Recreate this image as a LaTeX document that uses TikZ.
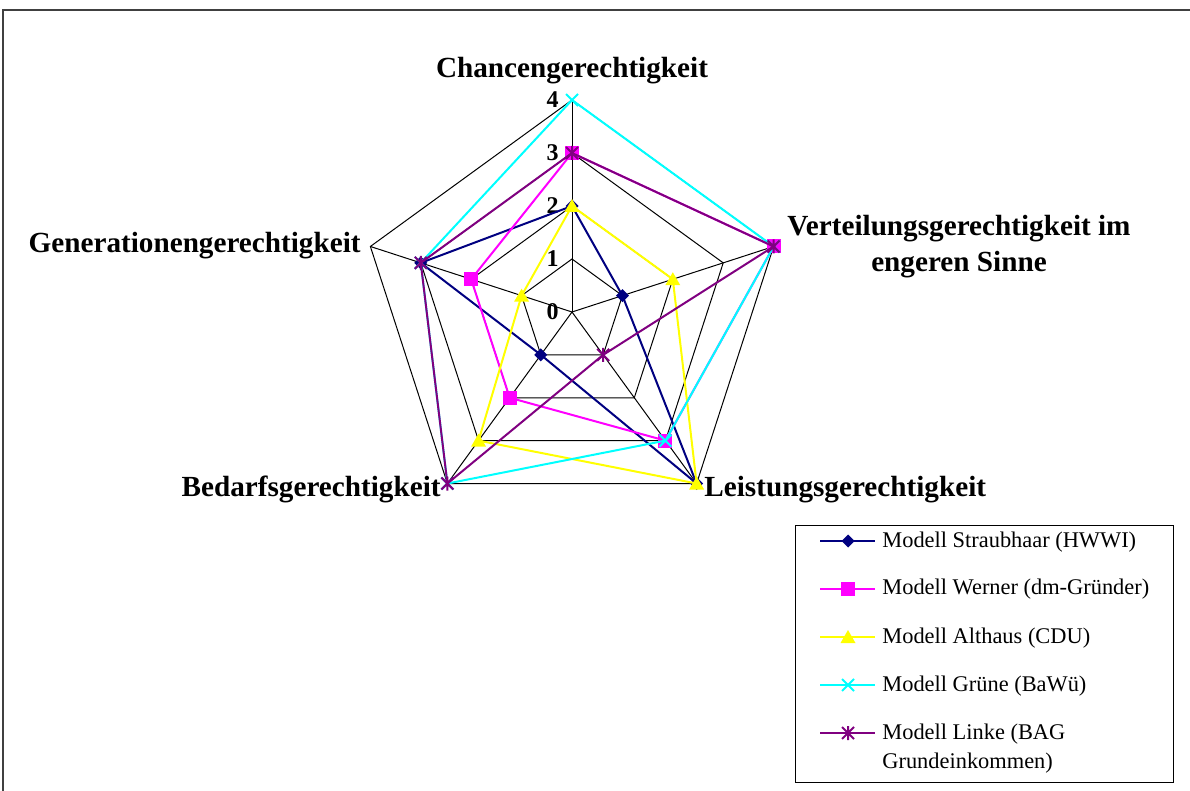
\documentclass[tikz,border=0pt]{standalone}
\usepackage{fontspec}
\setmainfont{Liberation Serif}
\usepackage{xcolor}
\usetikzlibrary{positioning}

\definecolor{straub}{RGB}{0,0,128}
\definecolor{werner}{RGB}{255,0,255}
\definecolor{althaus}{RGB}{255,255,0}
\definecolor{gruene}{RGB}{0,255,255}
\definecolor{linke}{RGB}{128,0,128}

\tikzset{
  mkdiamond/.pic={\fill (0,-6.5) -- (6.5,0) -- (0,6.5) -- (-6.5,0) -- cycle;},
  mksquare/.pic={\fill (-7,-7) rectangle (7,7);},
  mktriangle/.pic={\fill (0,-7) -- (7.5,6) -- (-7.5,6) -- cycle;},
  mkcross/.pic={\draw[line width=1pt] (-6,-6) -- (6,6) (-6,6) -- (6,-6);},
  mkstar/.pic={\draw[line width=1pt] (-6,-6) -- (6,6) (-6,6) -- (6,-6) (0,-7) -- (0,7);},
}

\begin{document}
\begin{tikzpicture}[x=0.5pt, y=-0.5pt,
  gridline/.style={black, line width=0.5pt},
  serie/.style={line width=1pt},
  axislabel/.style={font=\bfseries\fontsize{14.6}{18}\selectfont, inner sep=0pt},
  ticklabel/.style={font=\bfseries\fontsize{12}{14}\selectfont, anchor=east, inner sep=0pt},
  legendtext/.style={font=\fontsize{11.2}{14.5}\selectfont, anchor=base west, inner sep=0pt, align=left}]
\useasboundingbox (0,0) rectangle (1190,791);
\draw[line width=0.9pt, black!75] (3,10) rectangle (1200,800);

\coordinate (c) at (572,312);
% grid
\foreach \i in {0,...,4}
  \foreach \l in {1,...,4}
    \coordinate (g\i-\l) at ({572+53*\l*cos(90-72*\i)}, {312-53*\l*sin(90-72*\i)});
\foreach \i in {0,...,4}
  \draw[gridline] (c) -- (g\i-4);
\foreach \l in {1,...,4}
  \draw[gridline] (g0-\l) -- (g1-\l) -- (g2-\l) -- (g3-\l) -- (g4-\l) -- cycle;

\foreach \l in {0,...,4}
  \node[ticklabel] (t\l) at (559,{312-53*\l}) {\l};

% axes
\node[axislabel, anchor=base] (chancen) at (572,78) {Chancengerechtigkeit};
\node[axislabel, align=center] (verteilung) at (959,247) {Verteilungsgerechtigkeit im\\engeren Sinne};
\node[axislabel, anchor=base west] (leistung) at (704,496) {Leistungsgerechtigkeit};
\node[axislabel, anchor=base east] (bedarf) at (441,496) {Bedarfsgerechtigkeit};
\node[axislabel, anchor=base east] (generation) at (361,253) {Generationengerechtigkeit};

% series
\foreach \s/\col/\mk/\vals in {sb/straub/mkdiamond/{2,1,4,1,3},
    wn/werner/mksquare/{3,4,3,2,2},
    ah/althaus/mktriangle/{2,2,4,3,1},
    gr/gruene/mkcross/{4,4,3,4,3},
    lk/linke/mkstar/{3,4,1,4,3}}
{
  \foreach \v [count=\i from 0] in \vals
    \coordinate (\s\i) at ({572+53*\v*cos(90-72*\i)}, {312-53*\v*sin(90-72*\i)});
  \draw[serie, \col] (\s0) -- (\s1) -- (\s2) -- (\s3) -- (\s4) -- cycle;
  \foreach \i in {0,...,4}
    \pic[\col] at (\s\i) {\mk};
}

% legend
\draw[gridline] (795,525) rectangle (1173,782);
\foreach \col/\mk/\dy/\txt [count=\r from 0] in {straub/mkdiamond/0/{Modell Straubhaar (HWWI)},
    werner/mksquare/0/{Modell Werner (dm-Gründer)},
    althaus/mktriangle/0/{Modell Althaus (CDU)},
    gruene/mkcross/0/{Modell Grüne (BaWü)},
    linke/mkstar/29/{Modell Linke (BAG\\Grundeinkommen)}}
{
  \draw[serie, \col] (820,{541+48*\r}) -- (875,{541+48*\r});
  \pic[\col] at (848,{541+48*\r}) {\mk};
  \node[legendtext] (leg\r) at (882,{547+48*\r+\dy}) {\txt};
}
\end{tikzpicture}
\end{document}
